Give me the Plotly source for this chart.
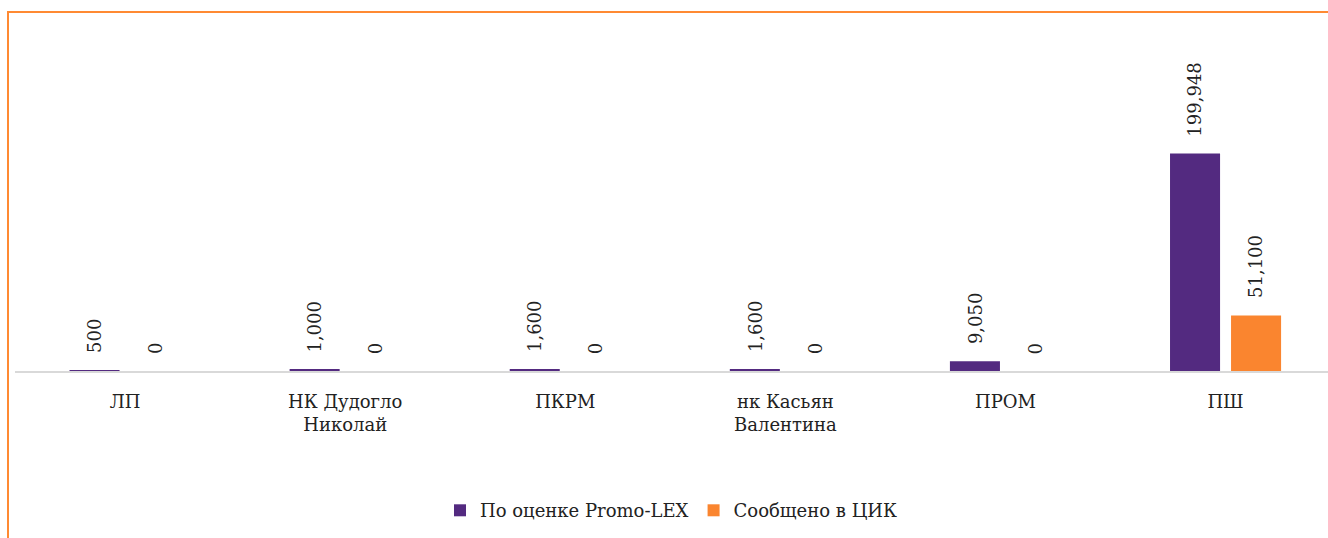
import plotly.graph_objects as go

# Parties / candidates and reported amounts (lei)
categories = ["ЛП", "НК Дудогло<br>Николай", "ПКРМ", "нк Касьян<br>Валентина", "ПРОМ", "ПШ"]
promo_lex = [500, 1000, 1600, 1600, 9050, 199948]
cec_reported = [0, 0, 0, 0, 0, 51100]

series_names = ["По оценке Promo-LEX", "Сообщено в ЦИК"]
PURPLE = "#532A80"
ORANGE = "#FA852F"
FONT = "DejaVu Serif"
TEXT_COLOR = "#222222"

W, H = 1328, 538
M_L, M_R, M_T, M_B = 15, 0, 20, 167
plot_w = W - M_L - M_R
cat_px = 220.1  # pixel spacing between category centres

fig = go.Figure()
fig.add_trace(go.Bar(x=categories, y=promo_lex, name=series_names[0],
                     marker=dict(color=PURPLE, line=dict(width=0))))
fig.add_trace(go.Bar(x=categories, y=cec_reported, name=series_names[1],
                     marker=dict(color=ORANGE, line=dict(width=0))))

# rotated value labels above each bar
annotations = []
for vals, shift in ((promo_lex, -30.5), (cec_reported, 30.5)):
    for c, v in zip(categories, vals):
        annotations.append(dict(
            x=c, y=v, xref="x", yref="y", text=f"{v:,}", textangle=-90,
            showarrow=False, xanchor="center", yanchor="bottom",
            xshift=shift, yshift=15,
            font=dict(family=FONT, size=18, color=TEXT_COLOR)))

# orange frame around the chart area
frame_left = (8 - M_L) / plot_w
plot_h = H - M_T - M_B
frame_top = 1 + (M_T - 12) / plot_h
shapes = [dict(type="rect", xref="paper", yref="paper",
               x0=frame_left, x1=1.2, y0=-1.0, y1=frame_top,
               line=dict(color="#FF8A33", width=2), fillcolor="rgba(0,0,0,0)",
               layer="above")]

fig.update_layout(
    width=W, height=H,
    margin=dict(l=M_L, r=M_R, t=M_T, b=M_B),
    paper_bgcolor="white", plot_bgcolor="white",
    barmode="group", bargap=0.4455, bargroupgap=0.18,
    font=dict(family=FONT, size=18, color=TEXT_COLOR),
    xaxis=dict(type="category", range=[-0.5, plot_w / cat_px - 0.5],
               showline=True, linecolor="#D9D9D9", linewidth=2,
               showgrid=False, ticks="outside", ticklen=13,
               tickcolor="rgba(0,0,0,0)", zeroline=False,
               tickfont=dict(family=FONT, size=18, color=TEXT_COLOR)),
    yaxis=dict(range=[0, 322800], visible=False, showgrid=False, zeroline=False),
    legend=dict(orientation="h", x=0.5, xanchor="center", y=-0.345, yanchor="top",
                font=dict(family=FONT, size=18, color=TEXT_COLOR),
                itemwidth=30, traceorder="normal"),
    annotations=annotations,
    shapes=shapes,
    showlegend=True,
)

fig.write_html("out.html")
